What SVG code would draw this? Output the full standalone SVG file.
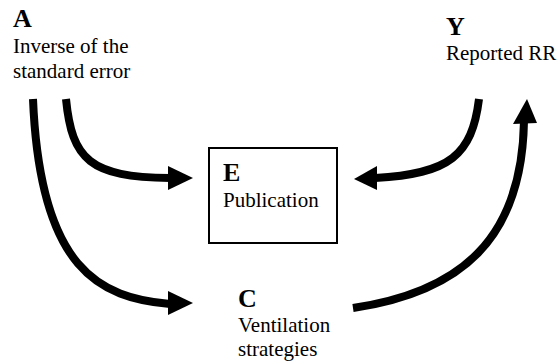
<svg xmlns="http://www.w3.org/2000/svg" width="558" height="364" viewBox="0 0 558 364">
<style>
.t{font-family:'Liberation Serif',Tinos,'DejaVu Serif',serif;font-size:21px;fill:#000}
.b{font-family:'Liberation Serif',Tinos,'DejaVu Serif',serif;font-size:26px;font-weight:bold;fill:#000}
.e{fill:none;stroke:#000;stroke-width:8}
.h{fill:#000;stroke:none}
</style>
<rect width="558" height="364" fill="#fff"/>
<g id="connectors">
<path class="e" d="M33,99 C40,270 100,298 170,304"/>
<polygon class="h" points="168,291 193,303 168,315"/>
<path class="e" d="M66,99 C72,160 90,177 170,178"/>
<polygon class="h" points="168,166 193,178 168,190"/>
<path class="e" d="M479,99 C472,155 450,174 375,178"/>
<polygon class="h" points="377,166 354,179 377,190"/>
<path class="e" d="M353,308 C460,292 522,240 524,121"/>
<polygon class="h" points="513,124 527,99 537,123"/>
</g>
<g id="A">
<text class="b" x="13" y="27">A</text>
<text class="t" x="13" y="53">Inverse of the</text>
<text class="t" x="13" y="78">standard error</text>
</g>
<g id="Y">
<text class="b" x="446" y="35">Y</text>
<text class="t" x="446" y="60">Reported RR</text>
</g>
<g id="E">
<rect x="209" y="148" width="128" height="95" fill="#fff" stroke="#000" stroke-width="2"/>
<text class="b" x="223" y="181">E</text>
<text class="t" x="223" y="207">Publication</text>
</g>
<g id="C">
<text class="b" x="238" y="307">C</text>
<text class="t" x="238" y="332">Ventilation</text>
<text class="t" x="238" y="356">strategies</text>
</g>
</svg>
